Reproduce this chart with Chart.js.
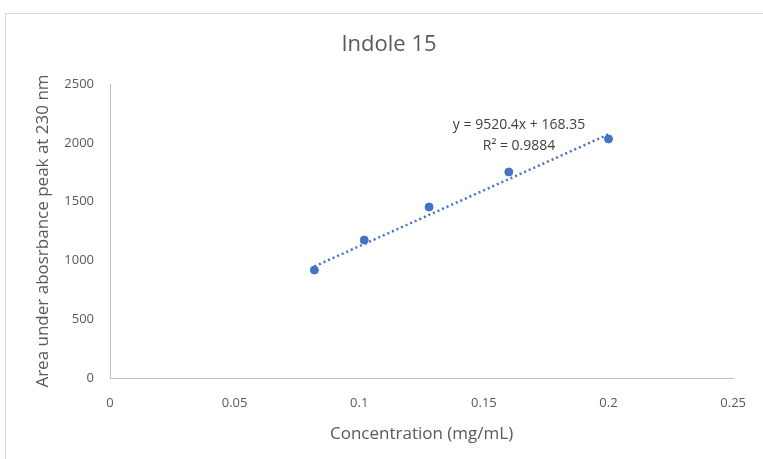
<!DOCTYPE html>
<html>
<head>
<meta charset="utf-8">
<script src="https://cdn.jsdelivr.net/npm/chart.js@4"></script>
<style>
  html, body { margin: 0; padding: 0; background: #fff; overflow: hidden; }
  #frame { position: absolute; left: 5px; top: 13px; width: 800px; height: 500px; border: 1px solid #d9d9d9; }
  #wrap { position: absolute; left: 0; top: 0; width: 763px; height: 459px; }
</style>
</head>
<body>
<div id="frame"></div>
<div id="wrap"><canvas id="chart" width="763" height="459"></canvas></div>
<script>
const concentrations = [0.082, 0.102, 0.128, 0.16, 0.2];
const areas = [918, 1173, 1454, 1752, 2033];
const trendX = [0.082, 0.2];
const trendY = [949, 2072];
const xTicks = [0, 0.05, 0.1, 0.15, 0.2, 0.25];
const yTicks = [0, 500, 1000, 1500, 2000, 2500];
const equationLines = ['y = 9520.4x + 168.35', 'R\u00b2 = 0.9884'];

const blue = '#4472C4';
const fontFamily = "'Open Sans', 'Liberation Sans', sans-serif";

const overlay = {
    id: 'overlay',
    afterDraw(chart) {
        const ctx = chart.ctx;
        ctx.save();
        ctx.textAlign = 'center';
        ctx.textBaseline = 'middle';
        ctx.fillStyle = '#595959';
        ctx.font = '22px ' + fontFamily;
        ctx.fillText('Indole 15', 389, 45);
        ctx.fillStyle = '#404040';
        ctx.font = '14px ' + fontFamily;
        ctx.fillText(equationLines[0], 519, 125);
        ctx.fillText(equationLines[1], 519, 146);
        ctx.restore();
    }
};

const ctx = document.getElementById('chart').getContext('2d');
new Chart(ctx, {
    type: 'scatter',
    data: {
        datasets: [{
            label: 'Data',
            data: concentrations.map((x, i) => ({ x: x, y: areas[i] })),
            backgroundColor: blue,
            borderColor: blue,
            pointRadius: 4,
            pointHoverRadius: 4
        }, {
            label: 'Trend',
            type: 'line',
            data: trendX.map((x, i) => ({ x: x, y: trendY[i] })),
            borderColor: blue,
            borderWidth: 2.5,
            borderDash: [2, 3],
            pointRadius: 0,
            fill: false
        }]
    },
    options: {
        responsive: false,
        animation: false,
        layout: { padding: { left: 0, top: 84, right: 27, bottom: 0 } },
        plugins: {
            legend: { display: false },
            title: { display: false },
            tooltip: { enabled: false }
        },
        scales: {
            x: {
                type: 'linear',
                min: 0,
                max: 0.25,
                afterFit: s => { s.height = 81; },
                afterBuildTicks: s => { s.ticks = xTicks.map(v => ({ value: v })); },
                grid: { display: false, drawTicks: false },
                border: { color: '#bfbfbf', width: 1 },
                ticks: { color: '#595959', font: { family: fontFamily, size: 13 }, padding: 17, maxRotation: 0,
                    callback: v => String(v) },
                title: { display: true, text: 'Concentration (mg/mL)', color: '#595959',
                    font: { family: fontFamily, size: 17 }, padding: { top: 0, bottom: 15 } }
            },
            y: {
                min: 0,
                max: 2500,
                afterFit: s => { s.width = 110; },
                afterBuildTicks: s => { s.ticks = yTicks.map(v => ({ value: v })); },
                grid: { display: false, drawTicks: false },
                border: { color: '#bfbfbf', width: 1 },
                ticks: { color: '#595959', font: { family: fontFamily, size: 13 }, padding: 16,
                    callback: v => String(v) },
                title: { display: true, text: 'Area under abosrbance peak at 230 nm', color: '#595959',
                    font: { family: fontFamily, size: 17 }, padding: { top: 33, bottom: 0 } }
            }
        }
    },
    plugins: [overlay]
});
</script>
</body>
</html>
